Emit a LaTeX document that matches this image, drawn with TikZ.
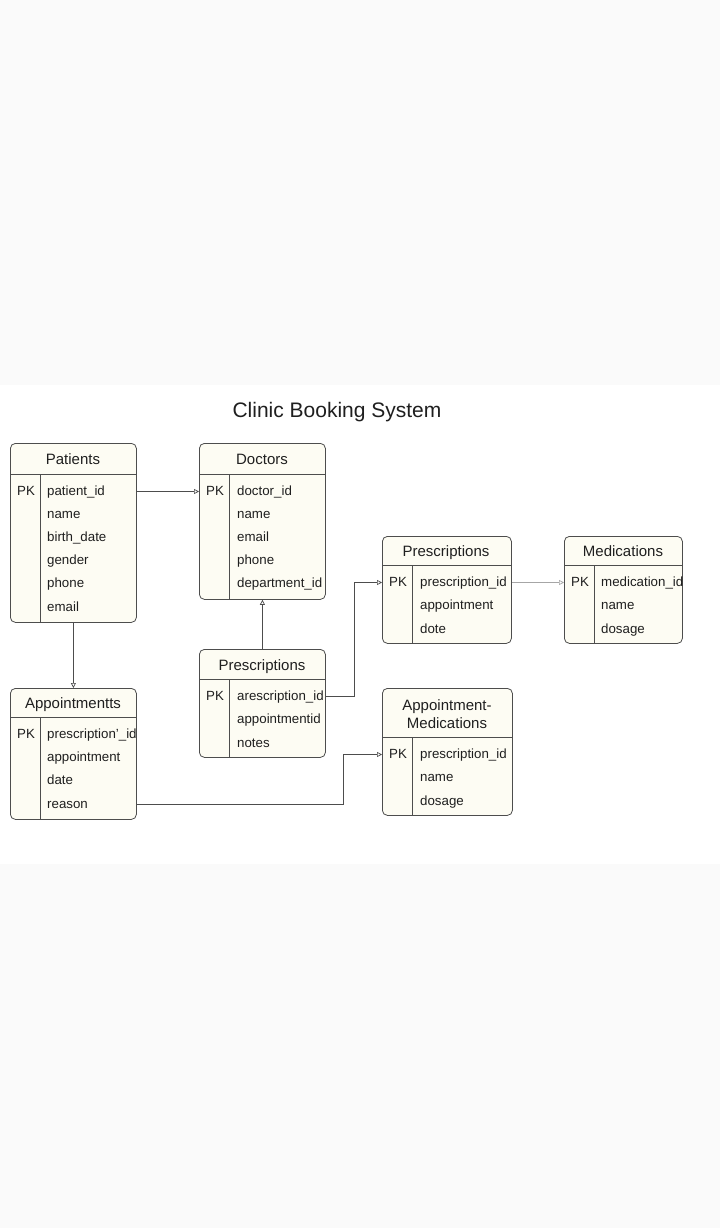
\documentclass[tikz,border=0pt]{standalone}
\usepackage{fontspec}
\setmainfont{Liberation Sans}
\usetikzlibrary{arrows.meta}

\definecolor{cream}{HTML}{FDFCF3}
\definecolor{edge}{HTML}{4D4D4D}
\definecolor{ink}{HTML}{1F1F1F}
\definecolor{bggray}{HTML}{FAFAFA}

\begin{document}
\begin{tikzpicture}[x=1pt, y=-1pt, >={Triangle[open,length=5pt,width=5pt]},
    tbl/.style={draw=edge, fill=cream, rounded corners=5pt, line width=0.8pt, anchor=north west, inner sep=0pt},
    hdr/.style={text=ink, align=center, font=\fontsize{15}{18}\selectfont},
    fld/.style={anchor=west, inner sep=0pt, text height=10pt, text depth=3pt, text=ink, font=\fontsize{13.3}{15}\selectfont},
    sep/.style={draw=edge, line width=0.8pt},
    conn/.style={draw=edge, line width=0.7pt, ->}]
    % Background
    \fill[bggray] (0,0) rectangle (720,1228);
    \fill[white] (0,385) rectangle (720,864);
    \useasboundingbox (0,0) rectangle (720,1228);

    % Title
    \node[text=ink, font=\fontsize{21}{24}\selectfont] (title) at (337,412) {Clinic Booking System};

    % Patients
    \node[tbl, minimum width=126pt, minimum height=179pt] (patients) at (10,443) {};
    \node[hdr, text height=11pt, text depth=3pt] (patients-h) at (73,460) {Patients};
    \draw[sep] (10,474) -- (136,474);
    \draw[sep] (40,474) -- (40,622);
    \node[fld] (patients-pk) at (17,491.5) {PK};
    \foreach \t [count=\i] in {patient\_id, name, birth\_date, gender, phone, email}
        \node[fld] (patients-\i) at (47,{491.5+23.2*(\i-1)}) {\t};

    % Doctors
    \node[tbl, minimum width=126pt, minimum height=156pt] (doctors) at (199,443) {};
    \node[hdr, text height=11pt, text depth=3pt] (doctors-h) at (262,460) {Doctors};
    \draw[sep] (199,474) -- (325,474);
    \draw[sep] (229,474) -- (229,599);
    \node[fld] (doctors-pk) at (206,491.5) {PK};
    \foreach \t [count=\i] in {doctor\_id, name, email, phone, department\_id}
        \node[fld] (doctors-\i) at (237,{491.5+23.2*(\i-1)}) {\t};

    % Prescriptions (right)
    \node[tbl, minimum width=129pt, minimum height=107pt] (rxa) at (382,536) {};
    \node[hdr, text height=11pt, text depth=3pt] (rxa-h) at (446,552) {Prescriptions};
    \draw[sep] (382,565) -- (511,565);
    \draw[sep] (412,565) -- (412,643);
    \node[fld] (rxa-pk) at (389,582.5) {PK};
    \foreach \t [count=\i] in {prescription\_id, appointment, dote}
        \node[fld] (rxa-\i) at (420,{582.5+23.5*(\i-1)}) {\t};

    % Medications
    \node[tbl, minimum width=118pt, minimum height=107pt] (meds) at (564,536) {};
    \node[hdr, text height=11pt, text depth=3pt] (meds-h) at (623,552) {Medications};
    \draw[sep] (564,565) -- (682,565);
    \draw[sep] (594,565) -- (594,643);
    \node[fld] (meds-pk) at (571,582.5) {PK};
    \foreach \t [count=\i] in {medication\_id, name, dosage}
        \node[fld] (meds-\i) at (601,{582.5+23.5*(\i-1)}) {\t};

    % Prescriptions (middle)
    \node[tbl, minimum width=126pt, minimum height=108pt] (rxb) at (199,649) {};
    \node[hdr, text height=11pt, text depth=3pt] (rxb-h) at (262,666) {Prescriptions};
    \draw[sep] (199,679) -- (325,679);
    \draw[sep] (229,679) -- (229,757);
    \node[fld] (rxb-pk) at (206,696.5) {PK};
    \foreach \t [count=\i] in {arescription\_id, appointmentid, notes}
        \node[fld] (rxb-\i) at (237,{696.5+23.5*(\i-1)}) {\t};

    % Appointmentts
    \node[tbl, minimum width=126pt, minimum height=131pt] (appts) at (10,688) {};
    \node[hdr, text height=11pt, text depth=3pt] (appts-h) at (73,704) {Appointmentts};
    \draw[sep] (10,717) -- (136,717);
    \draw[sep] (40,717) -- (40,819);
    \node[fld] (appts-pk) at (17,734.5) {PK};
    \foreach \t [count=\i] in {prescription'\_id, appointment, date, reason}
        \node[fld] (appts-\i) at (47,{734.5+23.4*(\i-1)}) {\t};

    % Appointment-Medications
    \node[tbl, minimum width=130pt, minimum height=127pt] (apmed) at (382,688) {};
    \node[hdr] (apmed-h) at (447,714) {Appointment-\\Medications};
    \draw[sep] (382,737) -- (512,737);
    \draw[sep] (412,737) -- (412,815);
    \node[fld] (apmed-pk) at (389,754.5) {PK};
    \foreach \t [count=\i] in {prescription\_id, name, dosage}
        \node[fld] (apmed-\i) at (420,{754.5+23.5*(\i-1)}) {\t};

    % Connectors
    \draw[conn] (patients.east |- patients-1) -- (doctors.west |- patients-1);
    \draw[conn] (patients.south) -- (appts.north);
    \draw[conn] (rxb.north) -- (doctors.south);
    \draw[conn] (rxb.east |- rxb-1) -- ++(29,0) |- (rxa.west |- rxa-1);
    \draw[conn, draw=gray!70] (rxa.east |- rxa-1) -- (meds.west |- rxa-1);
    \draw[conn] (appts.east |- appts-4) -- ++(207,0) |- (apmed.west |- apmed-1);
\end{tikzpicture}
\end{document}
